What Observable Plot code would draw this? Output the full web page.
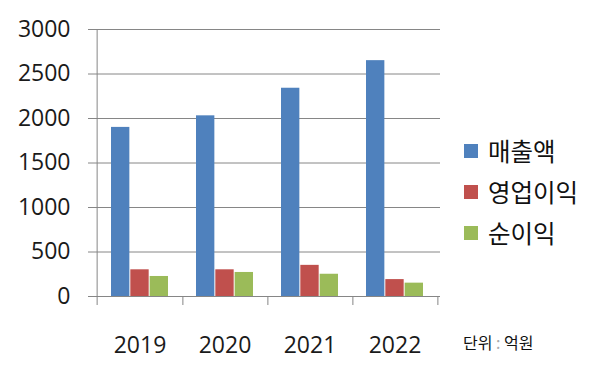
<!DOCTYPE html>
<html><head><meta charset="utf-8">
<script src="https://cdn.jsdelivr.net/npm/d3@7"></script>
<script src="https://cdn.jsdelivr.net/npm/@observablehq/plot@0.6"></script>
<style>
body{margin:0;background:#fff;}
#wrap{position:relative;width:600px;height:381px;overflow:hidden;}
.legend{position:absolute;left:464px;top:130px;font-family:"Noto Sans CJK KR",sans-serif;font-size:24.5px;color:#111;}
.legend .row{display:flex;align-items:center;height:41px;}
.legend .sw{width:14px;height:14px;margin-right:10px;}
.unit{position:absolute;left:463px;top:330px;font-family:"Noto Sans CJK KR",sans-serif;font-size:16px;color:#111;white-space:pre;}
.unit .colon{color:#aaa;}
</style></head><body><div id="wrap"></div>
<script>
const years = ["2019", "2020", "2021", "2022"];
const seriesNames = ["매출액", "영업이익", "순이익"];
const revenue = [1900, 2030, 2340, 2650];
const operatingProfit = [300, 300, 350, 190];
const netProfit = [225, 270, 250, 150];
const yTicks = [0, 500, 1000, 1500, 2000, 2500, 3000];
const colors = ["#4F81BD", "#C0504D", "#9BBB59"];
const unitParts = ["단위", ":", "억원"];

const seriesValues = [revenue, operatingProfit, netProfit];
const rows = [];
seriesNames.forEach((s, k) => years.forEach((y, i) => rows.push({year: y, series: s, value: seriesValues[k][i]})));

const W = 600, H = 381, mL = 96, mR = 161, mT = 29, mB = 85;
const pInner = 0.324, pOuter = 0.162;
const step = (W - mL - mR) / (years.length - pInner + 2 * pOuter);
const bw = step * (1 - pInner);
const sub = bw / 3;
const grid = "#868686";

const marks = [
  Plot.ruleY(yTicks, {stroke: grid, strokeWidth: 1, insetLeft: -8, insetRight: -1}),
  ...seriesNames.map((s, k) => Plot.barY(rows.filter(d => d.series === s), {
    x: "year", y: "value", fill: "series", insetLeft: k * sub, insetRight: (2 - k) * sub
  })),
  Plot.ruleX([years[0]], {dx: -step / 2, stroke: grid, insetBottom: -9}),
  Plot.axisX({tickSize: 9, text: null, dx: step / 2, stroke: grid}),
  Plot.axisX({tickSize: 0, tickPadding: 40, fontSize: 23, fill: "#1a1a1a"}),
  Plot.axisY({ticks: yTicks, tickSize: 0, tickPadding: 26, fontSize: 23, fill: "#1a1a1a", tickFormat: d => String(d)})
];

const chart = Plot.plot({
  width: W, height: H,
  marginLeft: mL, marginRight: mR, marginTop: mT, marginBottom: mB,
  style: {fontFamily: "'Open Sans', 'Noto Sans CJK KR', sans-serif", background: "#fff"},
  x: {domain: years, paddingInner: pInner, paddingOuter: pOuter, label: null},
  y: {domain: [0, 3000], label: null},
  color: {domain: seriesNames, range: colors},
  marks
});
const wrap = document.getElementById("wrap");
wrap.appendChild(chart);

const legend = document.createElement("div");
legend.className = "legend";
seriesNames.forEach((s, k) => {
  const row = document.createElement("div");
  row.className = "row";
  const sw = document.createElement("span");
  sw.className = "sw";
  sw.style.background = colors[k];
  const t = document.createElement("span");
  t.textContent = s;
  row.appendChild(sw); row.appendChild(t);
  legend.appendChild(row);
});
wrap.appendChild(legend);

const unit = document.createElement("div");
unit.className = "unit";
unit.innerHTML = `${unitParts[0]} <span class="colon">${unitParts[1]}</span> ${unitParts[2]}`;
wrap.appendChild(unit);
</script></body></html>
